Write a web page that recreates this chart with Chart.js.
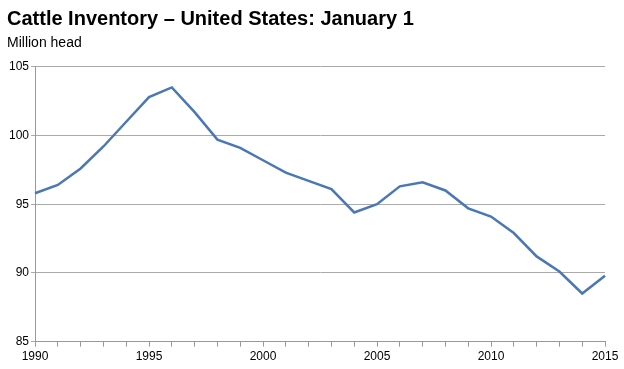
<!DOCTYPE html>
<html>
<head>
<meta charset="utf-8">
<script src="https://cdn.jsdelivr.net/npm/chart.js@4"></script>
<style>
  html, body { margin: 0; padding: 0; background: #fff; }
</style>
</head>
<body>
<canvas id="chartGado" width="624" height="369"></canvas>
<script>
// ========== Dados ==========
const anos = [
  1990, 1991, 1992, 1993, 1994, 1995, 1996, 1997, 1998, 1999, 2000, 2001, 2002,
  2003, 2004, 2005, 2006, 2007, 2008, 2009, 2010, 2011, 2012, 2013, 2014, 2015,
];
const rebanho = [
  95.8, 96.4, 97.6, 99.2, 101.0, 102.8, 103.5, 101.7, 99.7, 99.1, 98.2, 97.3, 96.7,
  96.1, 94.4, 95.0, 96.3, 96.6, 96.0, 94.7, 94.1, 92.9, 91.2, 90.1, 88.5, 89.8,
];
const ticksY = [85, 90, 95, 100, 105];

const titulo = "Cattle Inventory \u2013 United States: January 1";
const subtitulo = "Million head";
const fonte = "'Liberation Sans', Arial, sans-serif";

// ========== Gráfico ==========
new Chart(document.getElementById("chartGado"), {
  type: "line",
  data: {
    labels: anos.map(String),
    datasets: [
      {
        data: rebanho,
        borderColor: "#4a78b4",
        borderWidth: 2.5,
        pointRadius: 0,
        tension: 0,
        fill: false,
      },
    ],
  },
  options: {
    responsive: false,
    animation: false,
    layout: { padding: { left: 7, right: 19, top: 2, bottom: 2 } },
    plugins: {
      legend: { display: false },
      tooltip: { enabled: false },
      title: {
        display: true,
        text: titulo,
        align: "start",
        color: "#000",
        font: { family: fonte, size: 20, weight: "bold" },
        padding: { top: 5, bottom: 2 },
      },
      subtitle: {
        display: true,
        text: subtitulo,
        align: "start",
        color: "#000",
        font: { family: fonte, size: 14 },
        padding: { top: 2, bottom: 15 },
      },
    },
    scales: {
      x: {
        type: "category",
        offset: false,
        grid: {
          drawOnChartArea: false,
          drawTicks: true,
          tickLength: 5,
          color: "#999",
        },
        border: { color: "#999", width: 1 },
        ticks: {
          autoSkip: false,
          maxRotation: 0,
          color: "#000",
          font: { family: fonte, size: 12 },
          padding: 3,
          callback: (v, i) => (anos[i] % 5 === 0 ? anos[i] : ""),
        },
      },
      y: {
        min: 85,
        max: 105,
        afterBuildTicks: (axis) => {
          axis.ticks = ticksY.map((v) => ({ value: v }));
        },
        grid: { color: "#aaa", lineWidth: 1, tickLength: 4 },
        border: { color: "#999", width: 1 },
        ticks: {
          color: "#000",
          font: { family: fonte, size: 12 },
          padding: 2,
        },
      },
    },
  },
});
</script>
</body>
</html>
